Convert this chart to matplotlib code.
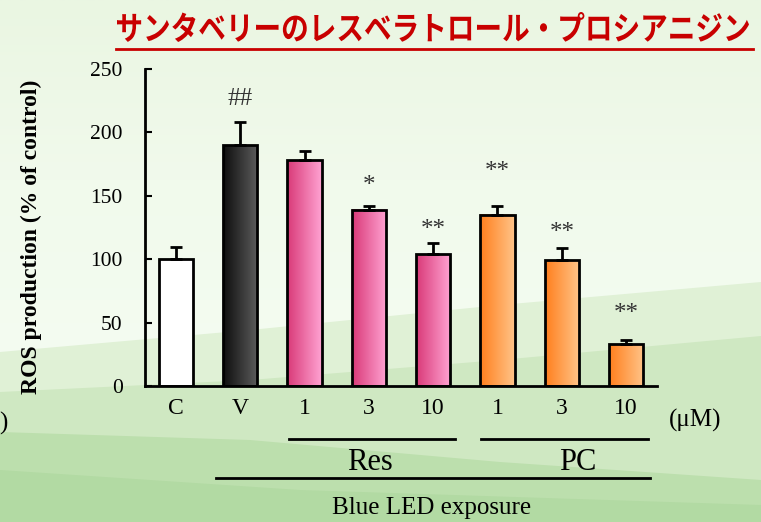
import numpy as np
import matplotlib.pyplot as plt
from matplotlib.colors import LinearSegmentedColormap
from matplotlib.patches import Polygon, PathPatch
from matplotlib.textpath import TextPath
from matplotlib.font_manager import FontProperties
from matplotlib.transforms import Affine2D

# ROS production, % of control (mean and error)
groups = ['C', 'V', '1', '3', '10', '1', '3', '10']
ros = [100, 190, 178, 139, 104, 135, 99, 33]
err = [10, 18, 7, 3, 9, 7, 10, 3]
marks = ['', '##', '', '*', '**', '**', '**', '**']
mark_y = [0, 226, 0, 158, 123, 169, 121, 57]
title = 'サンタベリーのレスベラトロール・プロシアニジン'

white = ('#ffffff', '#ffffff')
black = ('#0e0e0e', '#5c5c5c')
pink = ('#d93a78', '#ffa2d2')
orange = ('#ff7f1e', '#ffc488')
fills = [white, black, pink, pink, pink, orange, orange, orange]

plt.rcParams['font.family'] = ['Liberation Serif', 'DejaVu Serif']

W, H = 761, 522
fig = plt.figure(figsize=(W / 100, H / 100), dpi=100)

# background: pale green sheet with darker bands at the bottom
bg = fig.add_axes([0, 0, 1, 1], zorder=-10)
bg.set_xlim(0, W)
bg.set_ylim(H, 0)
bg.axis('off')
grad = LinearSegmentedColormap.from_list('bg', ['#eaf6e2', '#f1faec', '#f4fcf1'])
bg.imshow(np.linspace(0, 1, 256)[:, None], cmap=grad, aspect='auto',
          extent=(0, W, 360, 0))
bands = [
    ('#e0f1d6', [(0, 352), (250, 330), (500, 305), (761, 282)]),
    ('#cfe8c2', [(0, 392), (250, 380), (500, 360), (761, 336)]),
    ('#bcdfad', [(0, 432), (250, 440), (500, 462), (761, 480)]),
    ('#b2daa3', [(0, 470), (300, 490), (761, 505)]),
]
for col, top in bands:
    bg.add_patch(Polygon(top + [(W, H), (0, H)], closed=True, fc=col, ec='none'))

# title drawn as a path so it can be stretched to the banner width
fp = FontProperties(family='Noto Sans CJK JP', weight='bold')
tp = TextPath((0, 0), title, size=20, prop=fp)
ext = tp.get_extents()
tr = (Affine2D().translate(-ext.x0, -ext.y0)
      .scale(632 / ext.width, -30 / ext.height).translate(117, 42))
bg.add_patch(PathPatch(tr.transform_path(tp), fc='#c80000', ec='none'))
bg.plot([116, 753], [49, 49], color='#c80000', lw=2)

# bar chart
ax = fig.add_axes([145 / W, 1 - 386 / H, 512 / W, 317 / H])
ax.patch.set_alpha(0)
x = np.arange(len(groups))
bw = 0.53
for i in x:
    cmap = LinearSegmentedColormap.from_list('f', fills[i])
    ax.imshow(np.linspace(0, 1, 64)[None, :], cmap=cmap, aspect='auto',
              extent=(i - bw / 2, i + bw / 2, 0, ros[i]), zorder=2)
ax.bar(x, ros, bw, yerr=[np.zeros(len(err)), err], fc='none', ec='black',
       lw=2, zorder=3, error_kw=dict(ecolor='black', elinewidth=2,
                                      capsize=4.5, capthick=2))
for i in x:
    if marks[i]:
        ax.text(i, mark_y[i], marks[i], ha='center', va='center',
                fontsize=18, color='#333333')

ax.set_xlim(-0.48, len(groups) - 0.52)
ax.set_ylim(0, 250)
ax.set_yticks(range(0, 251, 50))
ax.tick_params(axis='y', direction='in', length=5, width=1.5, pad=16,
               labelsize=15.5)
ax.set_xticks(x, groups)
ax.tick_params(axis='x', length=0, pad=9, labelsize=17)
for s in ['top', 'right']:
    ax.spines[s].set_visible(False)
for s in ['left', 'bottom']:
    ax.spines[s].set_linewidth(2)

fig.text(31 / W, 1 - 237 / H, 'ROS production (% of control)', rotation=90,
         ha='center', va='center', fontsize=17, fontweight='bold')
fig.text(695 / W, 1 - 420 / H, '(μM)', ha='center', va='center', fontsize=18)
fig.text(3 / W, 1 - 423 / H, ')', ha='center', va='center', fontsize=18)

# treatment group brackets
bg.plot([289, 455], [439, 439], color='black', lw=2)
bg.plot([481, 648], [439, 439], color='black', lw=2)
bg.plot([216, 650], [478, 478], color='black', lw=2)
fig.text(370 / W, 1 - 462 / H, 'Res', ha='center', va='center', fontsize=22)
fig.text(578 / W, 1 - 462 / H, 'PC', ha='center', va='center', fontsize=22)
fig.text(432 / W, 1 - 508 / H, 'Blue LED exposure', ha='center', va='center',
         fontsize=18)

fig.savefig('out.png', dpi=100)
